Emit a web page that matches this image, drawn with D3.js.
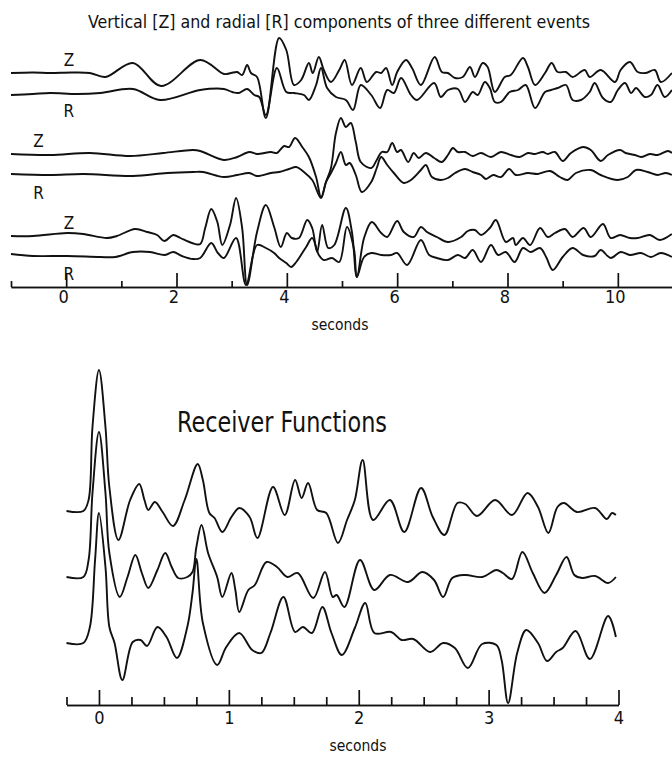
<!DOCTYPE html>
<html>
<head>
<meta charset="utf-8">
<script src="https://cdn.jsdelivr.net/npm/d3@7"></script>
<style>
  body { margin: 0; background: #fff; }
  svg { display: block; }
  text { font-family: "DejaVu Sans Condensed", "Liberation Sans Narrow", sans-serif; font-stretch: condensed; fill: #111; }
  .trace { fill: none; stroke: #111; stroke-width: 1.9; stroke-linejoin: round; }
  .axis path, .axis line { stroke: #111; stroke-width: 1.7; }
</style>
</head>
<body>
<div id="chart"></div>
<script>
// ---- seismograms: [seconds, amplitude] ----
const event1Z = [[-1,0],[-0.6,0.05],[-0.29,0],[0.1,0.05],[0.43,0],[0.71,-0.4],[1.21,1.0],[1.72,-1.3],[2.43,1.3],[2.86,-0.1],
  [2.99,0],[3.1,0.1],[3.19,-0.2],[3.28,0.8],[3.35,0],[3.46,-0.4],[3.62,-4.5],[3.86,3.5],[3.99,2.3],[4.13,-1.2],
  [4.26,-0.7],[4.4,1.0],[4.47,0],[4.58,1.6],[4.67,0.3],[4.8,-0.9],[4.95,0.3],[5.05,1.3],[5.18,-1.2],[5.34,0.5],
  [5.45,-0.9],[5.62,0.1],[5.71,0],[5.8,0.5],[5.91,-1.2],[6.0,0.1],[6.16,1.3],[6.27,0.5],[6.43,-1.2],[6.68,1.6],
  [6.81,0.1],[6.92,0],[7.05,-0.5],[7.19,-0.4],[7.32,0.6],[7.41,-0.4],[7.55,1.0],[7.64,0.6],[7.77,-1.9],[7.95,-0.4],
  [8.06,-0.2],[8.28,1.5],[8.37,0.6],[8.5,-1.2],[8.68,0],[8.8,1.0],[8.91,0.1],[9.06,0.1],[9.18,-0.4],[9.4,0.3],
  [9.49,-0.4],[9.69,0.3],[9.95,-0.9],[10.05,0.3],[10.22,1.1],[10.36,0.1],[10.51,0],[10.67,0.3],[10.78,-0.9],[10.98,0]];
const event1R = [[-1,-0.2],[-0.6,-0.1],[-0.29,0],[0.2,-0.1],[0.62,0],[1.21,0.4],[1.7,-0.7],[2.43,0.3],[2.86,0.4],[3.01,0.1],
  [3.13,0],[3.28,0.4],[3.41,-0.2],[3.5,-0.4],[3.62,-2.2],[3.82,2.5],[3.99,0.1],[4.13,0],[4.31,-0.2],[4.4,-0.7],
  [4.53,0.8],[4.62,2.5],[4.73,0.5],[4.89,-0.4],[5.07,-0.7],[5.2,-1.7],[5.34,0.8],[5.53,-0.2],[5.69,-1.5],[5.82,0.3],
  [5.94,0],[6.07,1.5],[6.25,-0.2],[6.36,-0.7],[6.67,1.0],[6.79,-0.4],[6.92,0.3],[7.1,0.4],[7.23,-0.9],[7.37,0.1],
  [7.46,-0.2],[7.59,1.1],[7.68,0.5],[7.77,-0.9],[7.88,-0.9],[8.04,0.1],[8.19,0.3],[8.33,0.8],[8.5,-1.5],[8.68,0.1],
  [8.79,0.3],[8.91,0.5],[9.06,0.8],[9.18,-0.7],[9.33,-0.7],[9.49,0.1],[9.58,1.0],[9.73,-0.5],[9.87,-0.9],[10.0,0.3],
  [10.13,1.0],[10.24,0],[10.33,0.5],[10.49,-0.4],[10.6,-0.2],[10.72,0.8],[10.85,-0.4],[10.98,0.3]];
const event2Z = [[-1,0],[-0.29,-0.1],[0.43,0.1],[1.16,-0.2],[1.76,0.1],[2.3,0.4],[2.43,0.3],[2.86,-0.6],[3.1,-0.3],[3.32,0.2],
  [3.46,0],[3.71,0.2],[3.82,0.1],[3.95,0.8],[4.04,0.7],[4.15,1.6],[4.28,0.7],[4.4,-0.3],[4.53,-2.3],[4.62,-4.3],
  [4.71,-2.8],[4.8,-1.4],[4.89,2.1],[4.98,3.6],[5.07,2.7],[5.16,3.1],[5.25,1.2],[5.34,-0.8],[5.53,-1.4],[5.63,-0.6],
  [5.72,0.2],[5.82,0.2],[5.91,1.1],[6.0,0.2],[6.07,0.4],[6.2,-0.8],[6.3,0.1],[6.39,-0.4],[6.52,0.1],[6.67,-0.4],
  [6.81,-0.8],[6.92,-0.1],[7.01,0.6],[7.1,0.2],[7.23,0.2],[7.37,-0.2],[7.52,0.1],[7.7,-0.3],[7.88,0.2],[8.06,-0.1],
  [8.22,-0.3],[8.37,0.1],[8.5,0],[8.64,0.2],[8.73,0],[8.86,0.2],[9.0,-0.7],[9.15,0.1],[9.37,0.7],[9.51,0.4],
  [9.69,-0.7],[9.82,-0.1],[10.04,0.4],[10.14,0.1],[10.31,-0.1],[10.42,-0.3],[10.58,0],[10.72,-0.1],[10.91,0.3],[10.98,0.1]];
const event2R = [[-1,0.1],[-0.29,0],[0.31,0.1],[1.21,-0.1],[1.83,0.2],[2.3,0.3],[2.48,0.3],[2.86,-0.2],[3.1,0],[3.32,0.2],
  [3.46,-0.1],[3.71,0.2],[3.86,0.3],[4.04,0.6],[4.17,0.8],[4.31,0.3],[4.46,-0.5],[4.62,-2.3],[4.71,-0.7],[4.8,0.2],
  [4.89,1.2],[4.98,2.3],[5.07,1.0],[5.14,1.2],[5.25,0],[5.36,-1.7],[5.53,-0.7],[5.63,0.7],[5.71,1.8],[5.82,1.0],
  [5.94,0.2],[6.12,-0.8],[6.25,-0.5],[6.43,0.5],[6.52,1.0],[6.63,-0.2],[6.79,-0.5],[6.92,-0.3],[7.05,0.2],[7.23,0.6],
  [7.37,0.3],[7.52,0],[7.61,-0.4],[7.74,0],[7.88,-0.2],[8.03,0.6],[8.15,0],[8.37,0.2],[8.55,0.1],[8.77,0.4],
  [8.95,-0.2],[9.09,-0.5],[9.24,0.2],[9.51,0.5],[9.69,0],[10.0,-0.5],[10.18,-0.2],[10.33,0.5],[10.54,0.3],[10.72,0],
  [10.87,0.2],[10.98,0]];
const event3Z = [[-1,0],[-0.6,0],[0.02,0.3],[0.31,0.2],[0.74,-0.2],[0.92,0],[1.25,0.7],[1.47,0.4],[1.65,0.1],[1.78,-0.5],
  [1.94,0.1],[2.07,-0.2],[2.28,-0.7],[2.43,-0.8],[2.52,0.8],[2.63,2.7],[2.74,1.4],[2.83,-0.9],[2.97,1.1],[3.08,3.8],
  [3.19,0.8],[3.28,-4.9],[3.46,0.4],[3.62,3.1],[3.77,0.9],[3.89,-1.1],[4.0,0.3],[4.09,-0.2],[4.22,-0.2],[4.37,1.6],
  [4.46,0.8],[4.55,-1.6],[4.64,1.1],[4.75,-1.2],[4.86,-0.9],[5.07,2.8],[5.18,0.4],[5.27,-4.1],[5.4,-0.2],[5.54,1.4],
  [5.71,0.3],[5.82,-0.1],[6.0,1.5],[6.12,0.4],[6.3,-0.1],[6.43,0.9],[6.54,0.4],[6.72,-0.1],[6.92,-0.6],[7.16,-0.1],
  [7.28,0.5],[7.41,0.6],[7.52,0.1],[7.68,0.8],[7.79,1.6],[7.97,-0.6],[8.1,-0.2],[8.15,-0.9],[8.28,-0.2],[8.41,-0.9],
  [8.59,0.8],[8.73,-0.1],[8.86,0.3],[9.04,0.7],[9.18,-0.1],[9.38,0.8],[9.51,-0.1],[9.73,1.2],[9.87,-0.2],[10.04,0.1],
  [10.22,-0.2],[10.36,-0.2],[10.58,0.1],[10.76,-0.4],[10.98,0.2]];
const event3R = [[-1,0.2],[-0.6,0],[0.02,0],[0.62,-0.1],[0.89,-0.1],[1.21,0.4],[1.52,0.4],[1.79,0.1],[1.94,0.4],[2.1,0],
  [2.3,-0.3],[2.43,-0.2],[2.63,1.3],[2.75,0.3],[2.86,-0.2],[3.08,1.8],[3.26,-2.9],[3.46,1.1],[3.62,0.8],[3.77,0.3],
  [3.86,-0.2],[3.99,-0.7],[4.08,-1.1],[4.17,-0.6],[4.35,0.9],[4.46,1.8],[4.58,0.1],[4.67,-0.4],[4.82,-0.2],[4.95,-0.6],
  [5.09,2.9],[5.22,0.6],[5.27,-2.1],[5.4,-0.1],[5.53,0.3],[5.71,0.1],[5.89,0.1],[6.0,0.3],[6.18,-0.9],[6.43,1.6],
  [6.58,0.1],[6.72,-0.2],[6.92,-0.4],[7.1,0.1],[7.23,-0.2],[7.37,0.6],[7.52,-0.6],[7.7,1.1],[7.83,0.1],[7.97,0.4],
  [8.13,-0.6],[8.28,0.8],[8.42,0.4],[8.59,0.8],[8.7,-0.1],[8.82,-1.4],[9.0,-0.1],[9.18,0.8],[9.37,0.1],[9.58,0],
  [9.69,0.6],[9.87,-0.2],[10.05,0.4],[10.22,0.1],[10.42,0.3],[10.6,-0.1],[10.78,0.3],[10.98,-0.1]];

// ---- receiver functions: [seconds, amplitude] ----
const rf1 = [[-0.25,0],[-0.12,0],[-0.08,0.11],[-0.05,0.84],[0,1.41],[0.05,0.84],[0.08,0.24],[0.15,-0.29],[0.24,0.11],[0.31,0.27],
  [0.35,0.11],[0.38,0.01],[0.43,0.09],[0.49,-0.01],[0.57,-0.15],[0.66,0.11],[0.76,0.47],[0.8,0.31],[0.85,-0.02],[0.89,-0.07],
  [0.95,-0.21],[1.02,-0.06],[1.08,0.03],[1.16,-0.06],[1.22,-0.27],[1.34,0.24],[1.43,-0.04],[1.51,0.31],[1.56,0.13],[1.61,0.28],
  [1.68,0.01],[1.75,-0.02],[1.84,-0.32],[1.91,-0.09],[1.97,0.11],[2.03,0.51],[2.11,-0.09],[2.24,0.11],[2.35,-0.21],[2.48,0.23],
  [2.57,-0.06],[2.66,-0.24],[2.76,0.08],[2.82,0.07],[2.91,-0.05],[3.05,0.11],[3.18,-0.04],[3.3,0.18],[3.38,0.04],[3.46,-0.22],
  [3.53,0.04],[3.58,0.08],[3.68,-0.01],[3.82,0.03],[3.91,-0.08],[3.95,-0.02],[3.98,-0.04]];
const rf2 = [[-0.25,0],[-0.12,0],[-0.08,0.17],[-0.05,0.84],[0,1.45],[0.05,0.84],[0.08,0.24],[0.16,-0.2],[0.22,0],[0.28,0.22],
  [0.33,0.04],[0.38,-0.11],[0.45,0.07],[0.51,0.24],[0.56,0.1],[0.61,-0.01],[0.68,0],[0.72,0.05],[0.75,0.3],[0.79,0.52],
  [0.84,0.24],[0.91,0],[0.95,-0.2],[1.02,0.04],[1.05,-0.13],[1.08,-0.35],[1.15,-0.13],[1.2,-0.08],[1.29,0.15],[1.37,0.1],
  [1.45,0],[1.53,0.04],[1.65,-0.21],[1.74,0.05],[1.8,-0.2],[1.83,-0.18],[1.89,-0.3],[2.01,0.17],[2.12,-0.13],[2.24,0.02],
  [2.38,-0.05],[2.49,0.05],[2.58,-0.03],[2.65,-0.2],[2.72,-0.01],[2.82,0.02],[2.95,0],[3.06,0.07],[3.11,0.04],[3.18,-0.02],
  [3.26,0.25],[3.34,0.04],[3.43,-0.16],[3.52,0.02],[3.6,0.2],[3.66,0.02],[3.72,-0.01],[3.82,0.01],[3.92,-0.06],[3.98,0]];
const rf3 = [[-0.25,0],[-0.12,0],[-0.07,0.16],[-0.03,0.83],[0,1.3],[0.05,0.76],[0.08,0.16],[0.12,0],[0.18,-0.37],[0.26,0.01],
  [0.32,0.03],[0.37,-0.03],[0.45,0.16],[0.52,0.06],[0.6,-0.15],[0.68,0.16],[0.72,0.5],[0.75,0.84],[0.8,0.2],[0.91,-0.22],
  [0.98,-0.04],[1.08,0.1],[1.18,-0.07],[1.25,-0.1],[1.32,0.1],[1.42,0.46],[1.51,0.11],[1.57,0.16],[1.64,0.1],[1.72,0.36],
  [1.79,0.1],[1.87,-0.12],[1.97,0.15],[2.05,0.4],[2.12,0.1],[2.25,0.11],[2.33,0.03],[2.42,0.04],[2.55,-0.09],[2.65,0],
  [2.74,-0.05],[2.84,-0.25],[2.95,-0.01],[3.06,-0.02],[3.1,-0.17],[3.15,-0.6],[3.22,-0.1],[3.29,0.13],[3.38,0],[3.45,-0.18],
  [3.52,-0.09],[3.57,-0.05],[3.67,0.12],[3.78,-0.16],[3.92,0.27],[3.98,0.06]];

const seismoTraces = [event1Z, event1R, event2Z, event2R, event3Z, event3R];
const seismoOffsets = [21.4, 19.4, 13.3, 11.2, 5.1, 3.1];
const componentLabels = ["Z", "R", "Z", "R", "Z", "R"];
const labelTimes = [0.05, 0.05, -0.5, -0.5, 0.05, 0.05];
const rfTraces = [rf1, rf2, rf3];
const rfOffsets = [1.94, 1.28, 0.62];

const topMajor = [0, 2, 4, 6, 8, 10];
const topMinor = [-1, 1, 3, 5, 7, 9, 11];
const rfMajor = [0, 1, 2, 3, 4];
const rfMinor = [-0.25, 0.25, 0.5, 0.75, 1.25, 1.5, 1.75, 2.25, 2.5, 2.75, 3.25, 3.5, 3.75];

const width = 672, height = 757;
const svg = d3.select("#chart").append("svg").attr("width", width).attr("height", height);

// ---------- top panel ----------
const xTop = d3.scaleLinear().domain([-1, 11]).range([11, 673]);
const yTop = d3.scaleLinear().domain([0, 25]).range([287, 37]);

svg.append("text")
  .attr("x", 339).attr("y", 28)
  .attr("text-anchor", "middle")
  .attr("font-size", 17)
  .attr("textLength", 502)
  .attr("lengthAdjust", "spacingAndGlyphs")
  .text("Vertical [Z] and radial [R] components of three different events");

const topLine = (off) => d3.line()
  .x(d => xTop(d[0]))
  .y(d => yTop(off + d[1]))
  .curve(d3.curveCatmullRom.alpha(0.5));

svg.append("g").selectAll("path")
  .data(seismoTraces)
  .join("path")
  .attr("class", "trace")
  .attr("d", (d, i) => topLine(seismoOffsets[i])(d));

svg.append("g").selectAll("text")
  .data(componentLabels)
  .join("text")
  .attr("x", (d, i) => xTop(labelTimes[i]))
  .attr("y", (d, i) => yTop(seismoOffsets[i] + (d === "Z" ? 0.7 : -1.1)))
  .attr("dy", d => d === "Z" ? "0" : "0.75em")
  .attr("text-anchor", "middle")
  .attr("font-size", 17)
  .text(d => d);

svg.append("g").attr("class", "axis")
  .attr("transform", `translate(0,${yTop(0)})`)
  .call(d3.axisBottom(xTop).tickValues(topMinor).tickSizeInner(-6).tickSizeOuter(0).tickFormat(""));
const topAxis = svg.append("g").attr("class", "axis")
  .attr("transform", `translate(0,${yTop(0)})`)
  .call(d3.axisBottom(xTop).tickValues(topMajor).tickSizeInner(-14).tickSizeOuter(0).tickPadding(3));
topAxis.selectAll("text").attr("font-size", 18).attr("dx", "-3");
topAxis.attr("font-family", null);

svg.append("text")
  .attr("x", 340).attr("y", 330)
  .attr("text-anchor", "middle")
  .attr("font-size", 15.5)
  .text("seconds");

// ---------- receiver functions ----------
const xRf = d3.scaleLinear().domain([-0.25, 4]).range([66.5, 618.5]);
const yRf = d3.scaleLinear().domain([0, 3.5]).range([705, 355]);

svg.append("text")
  .attr("x", 282).attr("y", 432)
  .attr("text-anchor", "middle")
  .attr("font-size", 29)
  .attr("font-weight", 300)
  .attr("textLength", 210)
  .attr("lengthAdjust", "spacingAndGlyphs")
  .text("Receiver  Functions");

const rfLine = (off) => d3.line()
  .x(d => xRf(d[0]))
  .y(d => yRf(off + d[1]))
  .curve(d3.curveCatmullRom.alpha(0.5));

svg.append("g").selectAll("path")
  .data(rfTraces)
  .join("path")
  .attr("class", "trace")
  .attr("d", (d, i) => rfLine(rfOffsets[i])(d));

svg.append("g").attr("class", "axis")
  .attr("transform", `translate(0,${yRf(0)})`)
  .call(d3.axisBottom(xRf).tickValues(rfMinor).tickSizeInner(-8).tickSizeOuter(0).tickFormat(""));
const rfAxis = svg.append("g").attr("class", "axis")
  .attr("transform", `translate(0,${yRf(0)})`)
  .call(d3.axisBottom(xRf).tickValues(rfMajor).tickSizeInner(-15).tickSizeOuter(0).tickPadding(6).tickFormat(d3.format("d")));
rfAxis.selectAll("text").attr("font-size", 18);
rfAxis.attr("font-family", null);

svg.append("text")
  .attr("x", 358).attr("y", 751)
  .attr("text-anchor", "middle")
  .attr("font-size", 15.5)
  .text("seconds");
</script>
</body>
</html>
